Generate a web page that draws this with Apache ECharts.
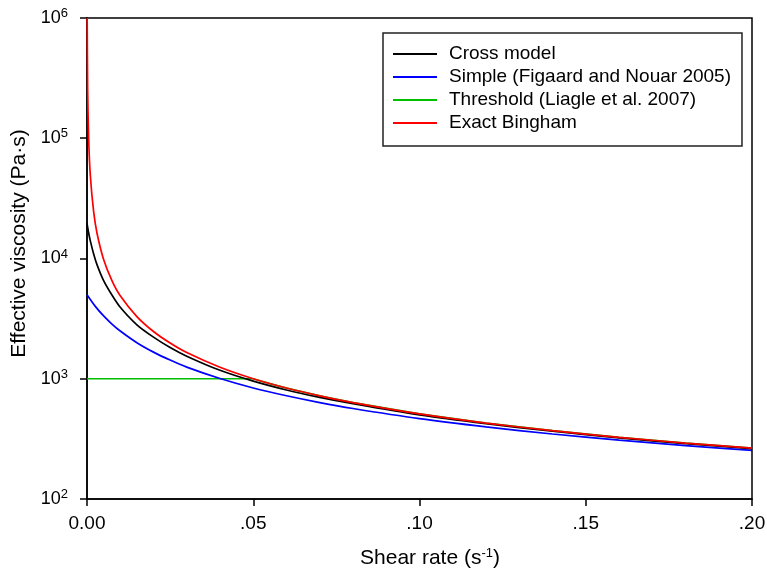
<!DOCTYPE html>
<html>
<head>
<meta charset="utf-8">
<script src="https://cdn.jsdelivr.net/npm/echarts@6/dist/echarts.min.js"></script>
<style>
html,body{margin:0;padding:0;background:#fff;}
#chart{width:767px;height:571px;}
</style>
</head>
<body>
<div id="chart"></div>
<script>
// Shear rate (s^-1) sample points and effective viscosity (Pa·s)
const crossX = [0, 0.0005, 0.001, 0.002, 0.003, 0.005, 0.0075, 0.01, 0.015, 0.02, 0.025, 0.03, 0.04, 0.05, 0.06, 0.07, 0.08, 0.10, 0.12, 0.14, 0.16, 0.18, 0.20];
const crossY = [19600, 16300, 14000, 10900, 8900, 6550, 4970, 3930, 2810, 2220, 1820, 1540, 1175, 955, 806, 700, 620, 500, 423, 366, 322, 289, 262];

const simpleX = [0, 0.0025, 0.005, 0.0075, 0.01, 0.015, 0.02, 0.025, 0.03, 0.04, 0.05, 0.06, 0.07, 0.08, 0.10, 0.12, 0.14, 0.16, 0.18, 0.20];
const simpleY = [5000, 4000, 3330, 2850, 2495, 1995, 1665, 1430, 1250, 1004, 838, 722, 634, 566, 466, 398, 347, 309, 278, 254];

const thresholdX = [0, 0.05, 0.055, 0.06, 0.07, 0.08, 0.10, 0.12, 0.14, 0.16, 0.18, 0.20];
const thresholdY = [1000, 1000, 911, 837, 720, 633, 510, 428, 370, 326, 292, 265];

const binghamX = [0.00005, 0.0002, 0.0005, 0.001, 0.002, 0.003, 0.005, 0.0075, 0.01, 0.015, 0.02, 0.025, 0.03, 0.04, 0.05, 0.06, 0.07, 0.08, 0.10, 0.12, 0.14, 0.16, 0.18, 0.20];
const binghamY = [1000000, 250000, 98000, 49000, 24500, 16300, 9800, 6550, 4900, 3290, 2470, 1980, 1650, 1245, 1000, 837, 720, 633, 510, 428, 370, 326, 292, 265];

const seriesNames = ['Cross model', 'Simple (Figaard and Nouar 2005)', 'Threshold (Liagle et al. 2007)', 'Exact Bingham'];
const xTicks = [0, 0.05, 0.10, 0.15, 0.20];
const yTicks = [100, 1000, 10000, 100000, 1000000];
const xTitle = 'Shear rate (s{sup|-1})';
const yTitle = 'Effective viscosity (Pa·s)';

function zip(xs, ys){ return xs.map((x,i)=>[x, ys[i]]); }

const FONT = '"Liberation Sans", Arial, sans-serif';
const chart = echarts.init(document.getElementById('chart'), null, {renderer:'canvas'});

function line(name, xs, ys, color, z, smooth){
  return {
    name, type:'line', data: zip(xs, ys), showSymbol:false, symbol:'none',
    smooth: smooth, lineStyle:{color, width:1.7}, itemStyle:{color}, z, clip:true
  };
}

chart.setOption({
  animation:false,
  backgroundColor:'#fff',
  textStyle:{fontFamily:FONT},
  grid:{left:87, right:15, top:18, bottom:72, containLabel:false, outerBoundsMode:'none',
    show:true, borderColor:'#000', borderWidth:1.5, backgroundColor:'transparent'},
  legend:{
    orient:'vertical', left:383, top:33,
    borderColor:'#222', borderWidth:1.5, padding:[11, 11, 13, 10],
    backgroundColor:'#fff',
    itemWidth:44, itemHeight:2, itemGap:3, icon:'rect',
    textStyle:{fontFamily:FONT, fontSize:19, color:'#000', padding:[0,0,0,7], lineHeight:20},
    data: seriesNames
  },
  graphic:[{
    type:'text', x:19.5, y:243.5, rotation:Math.PI/2,
    style:{text:yTitle, font:'21px ' + FONT, fill:'#000', textAlign:'center', textVerticalAlign:'middle'}
  }],
  xAxis:{
    type:'value', min:0, max:0.2, interval:0.05,
    axisLine:{show:true, lineStyle:{color:'#000', width:1.5}},
    axisTick:{show:true, inside:false, length:7, lineStyle:{color:'#000', width:1.5}},
    splitLine:{show:false},
    axisLabel:{fontFamily:FONT, fontSize:19, color:'#000', margin:15,
      formatter: v => Math.abs(v) < 1e-9 ? '0.00' : v.toFixed(2).replace(/^0/, '')},
    name:xTitle, nameLocation:'middle', nameGap:48,
    nameTextStyle:{fontFamily:FONT, fontSize:21, color:'#000', padding:[0,0,0,21],
      rich:{sup:{fontSize:13, verticalAlign:'top', padding:[0,0,10,0], fontFamily:FONT, color:'#000'}}}
  },
  yAxis:{
    type:'log', logBase:10, min:100, max:1000000,
    axisLine:{show:true, lineStyle:{color:'#000', width:1.5}},
    axisTick:{show:true, inside:false, length:7, lineStyle:{color:'#000', width:1.5}},
    minorTick:{show:false},
    splitLine:{show:false},
    axisLabel:{fontFamily:FONT, fontSize:18, color:'#000', margin:19,
      formatter: v => '10{sup|' + Math.round(Math.log10(v)) + '}',
      rich:{sup:{fontSize:13, verticalAlign:'top', padding:[0,0,9,0], fontFamily:FONT, color:'#000'}}}
  },
  series:[
    line(seriesNames[2], thresholdX, thresholdY, '#00c000', 2, false),
    line(seriesNames[1], simpleX, simpleY, '#0000ff', 3, 0.25),
    line(seriesNames[0], crossX, crossY, '#000000', 4, 0.25),
    line(seriesNames[3], binghamX, binghamY, '#ff0000', 5, 0.25)
  ]
});
</script>
</body>
</html>
